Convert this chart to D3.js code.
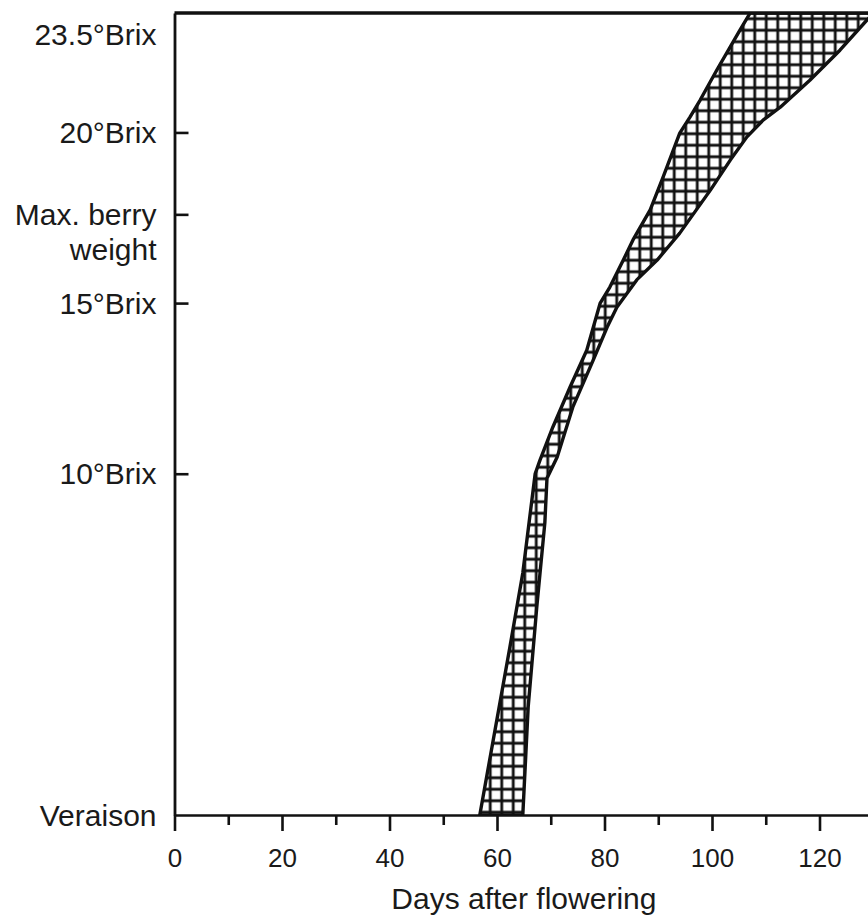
<!DOCTYPE html>
<html><head><meta charset="utf-8">
<script src="https://cdn.jsdelivr.net/npm/d3@7"></script>
<style>
body{margin:0;background:#fff}
text{font-family:"Liberation Sans",Arial,sans-serif;fill:#1a1a1a}
</style>
</head><body><svg id="c" width="868" height="920"></svg>
<script>
// ---- data ----
const xTicks = [0, 20, 40, 60, 80, 100, 120];
const xMinorTicks = [10, 30, 50, 70, 90, 110, 130];
const stageValues = [0, 10, 15, 17.6, 20, 23.5];
const stageLabels = [["Veraison"], ["10°Brix"], ["15°Brix"], ["Max. berry", "weight"], ["20°Brix"], ["23.5°Brix"]];
const stageTicks = [10, 15, 17.6, 20];
// earliest (left) boundary of the ripening band
const earlyDays = [56.8, 62.4, 64.8, 67.1, 68.0, 70.4, 73.6, 76.7, 79.2, 81.0, 83.5, 85.3, 88.5, 90.9, 94.0, 95.9, 97.8, 100.9, 105.2, 107.1];
const earlyBrix = [0, 4.92, 7.09, 10.0, 10.4, 11.37, 12.54, 13.62, 15.0, 15.47, 16.26, 16.85, 17.73, 18.69, 19.98, 20.45, 20.95, 21.83, 23.0, 23.5];
// latest (right) boundary of the ripening band
const lateDays = [64.8, 65.8, 67.4, 68.9, 69.3, 71.2, 74.1, 77.9, 80.5, 82.3, 86.0, 89.8, 94.0, 99.7, 103.4, 106.5, 109.5, 112.7, 118.2, 123.8, 128.8, 130.3];
const lateBrix = [0, 3.16, 6.09, 8.56, 9.87, 10.49, 11.95, 13.33, 14.3, 14.88, 15.68, 16.26, 17.05, 18.31, 19.19, 19.87, 20.36, 20.74, 21.53, 22.41, 23.29, 23.5];
const xTitle = "Days after flowering";

// ---- layout ----
const svg = d3.select("#c");
const x = d3.scaleLinear().domain([0, 130]).range([174.5, 873.25]);
const y = d3.scaleLinear().domain([0, 23.5]).range([815, 13]);

const defs = svg.append("defs");
const pat = defs.append("pattern").attr("id", "grid")
  .attr("patternUnits", "userSpaceOnUse")
  .attr("width", 11.5).attr("height", 11.5)
  .attr("x", 496).attr("y", 726);
pat.append("rect").attr("width", 11.5).attr("height", 11.5).attr("fill", "#fff");
pat.append("path").attr("d", "M0,5.75H11.5M5.75,0V11.5")
  .attr("stroke", "#111").attr("stroke-width", 2.8).attr("fill", "none");

defs.append("clipPath").attr("id", "plot")
  .append("rect").attr("x", x(0)).attr("y", y(23.5)).attr("width", x(130) - x(0)).attr("height", y(0) - y(23.5));

// band polygon
const early = earlyDays.map((d, i) => [d, earlyBrix[i]]);
const late = lateDays.map((d, i) => [d, lateBrix[i]]);
const poly = early.concat(late.slice().reverse());
const line = d3.line().x(d => x(d[0])).y(d => y(d[1]));
svg.append("path")
  .attr("clip-path", "url(#plot)")
  .attr("d", line(poly) + "Z")
  .attr("fill", "url(#grid)")
  .attr("stroke", "#111").attr("stroke-width", 3.4).attr("stroke-linejoin", "round");

// top frame line
svg.append("line")
  .attr("x1", x(0)).attr("x2", x(130))
  .attr("y1", y(23.5)).attr("y2", y(23.5))
  .attr("stroke", "#111").attr("stroke-width", 3.4);

// bottom axis - major
const gx = svg.append("g").attr("transform", `translate(0,${y(0)})`)
  .call(d3.axisBottom(x).tickValues(xTicks).tickSize(16).tickSizeOuter(0).tickPadding(18).tickFormat(d3.format("d")));
gx.select(".domain").attr("stroke", "#111").attr("stroke-width", 2.6);
gx.selectAll(".tick line").attr("stroke", "#111").attr("stroke-width", 2.6);
gx.selectAll(".tick text").attr("font-size", 26).attr("font-family", "Liberation Sans, Arial, sans-serif").attr("fill", "#1a1a1a");
// bottom axis - minor
const gxm = svg.append("g").attr("transform", `translate(0,${y(0)})`)
  .call(d3.axisBottom(x).tickValues(xMinorTicks).tickSize(10).tickSizeOuter(0).tickFormat(""));
gxm.select(".domain").remove();
gxm.selectAll(".tick line").attr("stroke", "#111").attr("stroke-width", 2.6);

// left axis (inward ticks)
const gy = svg.append("g").attr("transform", `translate(${x(0)},0)`)
  .call(d3.axisLeft(y).tickValues(stageTicks).tickSize(-14).tickSizeOuter(0).tickFormat(""));
gy.select(".domain").attr("stroke", "#111").attr("stroke-width", 2.8);
gy.selectAll(".tick line").attr("stroke", "#111").attr("stroke-width", 2.6);

// stage labels
const lab = svg.append("g").attr("font-size", 30).attr("text-anchor", "end");
stageValues.forEach((v, i) => {
  const lines = stageLabels[i];
  const extra = v === 23.5 ? 21 : 0;
  const t = lab.append("text").attr("x", x(0) - 18).attr("y", y(v) + extra + 10.5);
  lines.forEach((s, j) => {
    t.append("tspan").attr("x", x(0) - 18).attr("dy", j === 0 ? 0 : 35).text(s);
  });
});

// x title
svg.append("text").attr("x", (x(0) + x(130)) / 2).attr("y", 909)
  .attr("text-anchor", "middle").attr("font-size", 30).text(xTitle);
</script>
</body></html>
